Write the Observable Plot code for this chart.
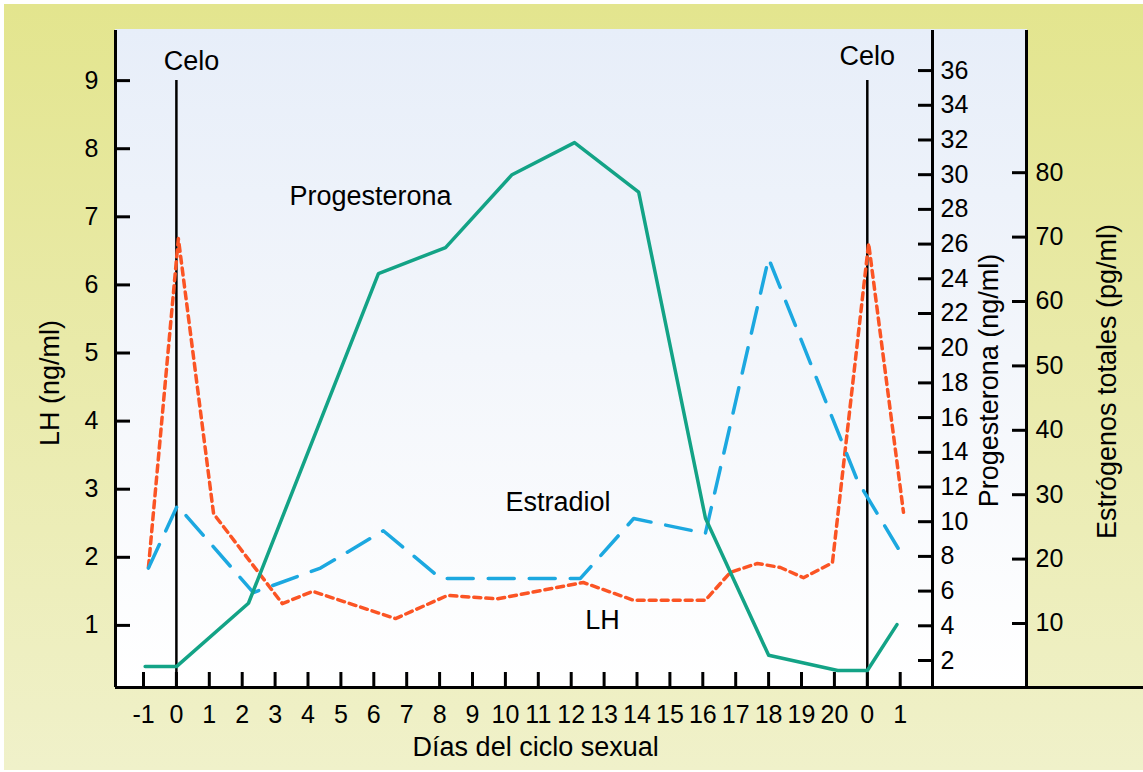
<!DOCTYPE html>
<html>
<head>
<meta charset="utf-8">
<script src="https://cdn.jsdelivr.net/npm/d3@7"></script>
<script src="https://cdn.jsdelivr.net/npm/@observablehq/plot@0.6"></script>
<style>
  html, body { margin: 0; padding: 0; background: #ffffff; }
  #chart { position: relative; width: 1143px; height: 772px; overflow: hidden; background: #ffffff; }
  #outer { position: absolute; left: 4px; top: 4px; width: 1139px; height: 766px;
           background: linear-gradient(to bottom, #e3e58e 0%, #e9eaa9 45%, #f0f1ca 100%); }
  #panel { position: absolute; left: 115px; top: 29px; width: 912px; height: 658px;
           background: linear-gradient(to bottom, #e7eef9 0%, #f3f6fb 50%, #ffffff 100%); }
  #chart svg { position: absolute; left: 0; top: 0; }
</style>
</head>
<body>
<div id="chart"><div id="outer"></div><div id="panel"></div></div>
<script>
// ---- data ----
const tickLabels = ["-1","0","1","2","3","4","5","6","7","8","9","10","11","12","13","14","15","16","17","18","19","20","0","1"];
const tickPos = tickLabels.map((_, i) => i);   // position index along the x axis
const celoPos = [1, 22];

const lhTicks = [1, 2, 3, 4, 5, 6, 7, 8, 9];
const progTicks = [2, 4, 6, 8, 10, 12, 14, 16, 18, 20, 22, 24, 26, 28, 30, 32, 34, 36];
const estrTicks = [10, 20, 30, 40, 50, 60, 70, 80];

// LH (ng/ml) — red dotted line
const lhX = [0.15, 1.06, 2.13, 4.22, 5.14, 7.66, 9.24, 10.76, 13.37, 14.89, 17.08, 17.84, 18.66, 19.36, 20.06, 20.94, 22.04, 23.1];
const lhY = [1.85, 6.68, 2.64, 1.32, 1.50, 1.10, 1.44, 1.39, 1.63, 1.37, 1.37, 1.78, 1.91, 1.85, 1.70, 1.92, 6.61, 2.66];

// Progesterona (ng/ml) — green solid line
const progX = [0.05, 1.0, 3.19, 7.14, 9.18, 11.2, 13.1, 15.05, 17.08, 19.0, 21.1, 22.0, 22.9];
const progY = [1.65, 1.65, 5.3, 24.3, 25.8, 30.0, 31.85, 29.0, 10.2, 2.3, 1.42, 1.42, 4.07];

// Estradiol / Estrógenos totales (pg/ml) — blue dashed line
const estrX = [0.15, 1.03, 3.34, 5.38, 7.29, 9.03, 13.28, 14.9, 17.08, 19.0, 21.7, 23.1];
const estrY = [18.6, 28.3, 14.8, 18.6, 24.4, 17.0, 17.0, 26.3, 24.0, 66.7, 32.2, 20.3];

const lh = lhX.map((x, i) => ({x, y: lhY[i]}));
const prog = progX.map((x, i) => ({x, y: progY[i]}));
const estr = estrX.map((x, i) => ({x, y: estrY[i]}));

// ---- layout ----
const FONT = "'Liberation Sans', Arial, Helvetica, sans-serif";
const X_LO = -0.851;
const common = {
  width: 1143, height: 772, marginLeft: 115, marginTop: 30, marginBottom: 85,
  style: {background: "none", overflow: "visible", fontFamily: FONT, fontSize: "25px", color: "#000"}
};
const LH_DOM = [0.088, 9.736];
const PROG_DOM = [0.444, 38.31];
const ESTR_DOM = [0.062, 102.08];

const red = "#fb5424", green = "#13a386", blue = "#1ca8e0";

const p1 = Plot.plot({
  ...common, marginRight: 0,
  x: {domain: [X_LO, 30.395]},
  y: {domain: LH_DOM},
  marks: [
    Plot.ruleX(celoPos, {x: d => d, y1: LH_DOM[0], y2: 9, stroke: "#000", strokeWidth: 2.5}),
    Plot.line(lh, {x: "x", y: "y", stroke: red, strokeWidth: 3.5, strokeDasharray: "7,5"}),
    Plot.ruleX([X_LO], {stroke: "#000", strokeWidth: 3}),
    Plot.ruleY([LH_DOM[0]], {stroke: "#000", strokeWidth: 3}),
    Plot.axisY({ticks: lhTicks, anchor: "left", label: null, tickSize: -15, tickPadding: 32, strokeWidth: 3, fontSize: 25}),
    Plot.axisX({ticks: tickPos, tickFormat: i => tickLabels[i], anchor: "bottom", label: null, tickSize: -15, tickPadding: 33, strokeWidth: 3, fontSize: 25}),
    Plot.text(["Celo", "Celo"], {text: d => d, x: [1.46, 22.0], y: [9.29, 9.35], fontSize: 27}),
    Plot.text(["Progesterona"], {text: d => d, x: [6.9], y: [7.3], fontSize: 27}),
    Plot.text(["Estradiol"], {text: d => d, x: [12.6], y: [2.8], fontSize: 27}),
    Plot.text(["LH"], {text: d => d, x: [13.95], y: [1.07], fontSize: 27}),
    Plot.text(["LH (ng/ml)"], {text: d => d, frameAnchor: "left", textAnchor: "middle", dx: -65, dy: 24, rotate: -90, fontSize: 27}),
    Plot.text(["Días del ciclo sexual"], {text: d => d, x: [11.92], frameAnchor: "bottom", textAnchor: "middle", dy: 68, fontSize: 27})
  ]
});

const p3 = Plot.plot({
  ...common, marginRight: 117,
  x: {domain: [X_LO, 26.84], axis: null},
  y: {domain: ESTR_DOM},
  marks: [
    Plot.line(estr, {x: "x", y: "y", stroke: blue, strokeWidth: 3.5, strokeDasharray: "26,15"}),
    Plot.ruleX([26.84], {stroke: "#000", strokeWidth: 3}),
    Plot.axisY({ticks: estrTicks, anchor: "right", label: null, tickSize: -15, tickPadding: 24, strokeWidth: 3, fontSize: 25}),
    Plot.text(["Estrógenos totales (pg/ml)"], {text: d => d, frameAnchor: "right", textAnchor: "middle", dx: 81, dy: 22.5, rotate: -90, fontSize: 27})
  ]
});

const p2 = Plot.plot({
  ...common, marginRight: 211,
  x: {domain: [X_LO, 23.98], axis: null},
  y: {domain: PROG_DOM},
  marks: [
    Plot.line(prog, {x: "x", y: "y", stroke: green, strokeWidth: 3.5}),
    Plot.ruleX([23.98], {stroke: "#000", strokeWidth: 3}),
    Plot.axisY({ticks: progTicks, anchor: "right", label: null, tickSize: -15, tickPadding: 23, strokeWidth: 3, fontSize: 25}),
    Plot.text(["Progesterona (ng/ml)"], {text: d => d, frameAnchor: "right", textAnchor: "middle", dx: 57, dy: 21.5, rotate: -90, fontSize: 27})
  ]
});

const chart = document.getElementById("chart");
chart.appendChild(p1);
chart.appendChild(p3);
chart.appendChild(p2);
</script>
</body>
</html>
